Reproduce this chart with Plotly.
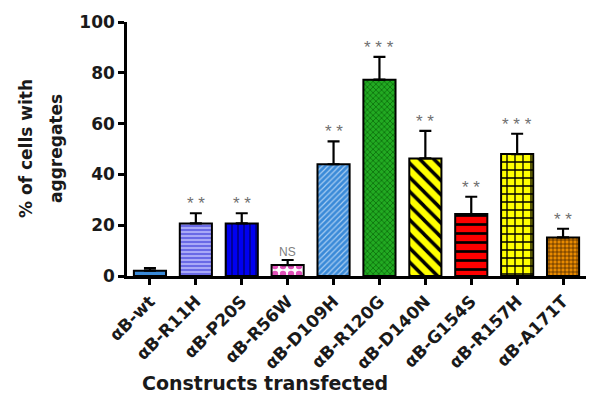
import plotly.graph_objects as go

constructs = ["\u03b1B-wt", "\u03b1B-R11H", "\u03b1B-P20S", "\u03b1B-R56W", "\u03b1B-D109H",
              "\u03b1B-R120G", "\u03b1B-D140N", "\u03b1B-G154S", "\u03b1B-R157H", "\u03b1B-A171T"]
pct_aggregates = [2.1, 20.7, 20.7, 4.3, 44.0, 77.3, 46.3, 24.4, 48.0, 15.2]
sem = [1.0, 4.0, 4.0, 2.0, 9.0, 9.0, 10.8, 6.8, 8.0, 3.4]
significance = ["", "**", "**", "NS", "**", "***", "**", "**", "***", "**"]

# bar fill styles (shape, background, foreground, size, solidity)
fills = [
    ("", "#3a8ad8", "#3a8ad8", 8, 0.3),
    ("-", "#6a6ae6", "#c4c4ff", 4, 0.35),
    ("|", "#0000f0", "#00008c", 6, 0.3),
    (".", "#ffffff", "#e050b8", 8, 0.5),
    ("/", "#3a8ad8", "#a8cdf2", 4, 0.3),
    ("x", "#22aa22", "#0b6b0b", 4, 0.35),
    ("\\", "#ffff00", "#000000", 10, 0.35),
    ("-", "#ff0000", "#000000", 9, 0.3),
    ("+", "#ffff00", "#000000", 8, 0.3),
    ("+", "#e88a00", "#3a1c00", 4, 0.3),
]

fig = go.Figure()

# one trace per construct so every bar gets its own fill pattern
for i, (name, v, e, f) in enumerate(zip(constructs, pct_aggregates, sem, fills)):
    shape, bg, fg, size, solidity = f
    fig.add_trace(go.Bar(
        x=[i], y=[v], name=name,
        width=0.7,
        marker=dict(
            color=bg,
            line=dict(color="black", width=2),
            pattern=dict(shape=shape, bgcolor=bg, fgcolor=fg, size=size,
                         solidity=solidity, fillmode="replace"),
        ),
        error_y=dict(type="data", array=[e], arrayminus=[0], symmetric=False,
                     color="black", thickness=2.2, width=6),
        showlegend=False,
    ))

# significance markers above error bars
for i, (v, e, s) in enumerate(zip(pct_aggregates, sem, significance)):
    if not s:
        continue
    if s == "NS":
        fig.add_annotation(x=i, y=v + e, text=s, showarrow=False,
                           yanchor="bottom", yshift=-1,
                           font=dict(family="Arial", size=12, color="#808080"))
    else:
        fig.add_annotation(x=i, y=v + e, text=" ".join(s), showarrow=False,
                           yanchor="bottom", yshift=-2,
                           font=dict(family="Arial", size=17, color="#707070"))

# axis titles placed as in the reference
fig.add_annotation(
    xref="paper", yref="paper", x=(265 - 127) / 459, y=-0.42,
    text="<b>Constructs transfected</b>", showarrow=False,
    xanchor="center", yanchor="middle",
    font=dict(family="DejaVu Sans", size=19, color="#1a1a1a"),
)
for px, line in [(26, "% of cells with"), (56, "aggregates")]:
    fig.add_annotation(
        xref="paper", yref="paper", x=(px - 127) / 459, y=0.5,
        text=f"<b>{line}</b>", showarrow=False, textangle=-90,
        xanchor="center", yanchor="middle",
        font=dict(family="DejaVu Sans", size=17, color="#1a1a1a"),
    )

# page body has an 8px margin, so the figure is drawn 8px in from the corner
fig.update_layout(
    width=594, height=399,
    margin=dict(l=119, r=16, t=14, b=131),
    barmode="overlay",
    plot_bgcolor="white",
    paper_bgcolor="white",
    font=dict(family="DejaVu Sans", color="#1a1a1a"),
)

fig.update_xaxes(
    range=[-0.5, 9.5],
    tickmode="array",
    tickvals=list(range(len(constructs))),
    ticktext=[f"<b>{c}</b>" for c in constructs],
    tickangle=-45,
    tickfont=dict(family="DejaVu Sans", size=17),
    showline=True, linecolor="black", linewidth=2.5,
    ticks="outside", ticklen=6, tickwidth=2.5, tickcolor="black",
    showgrid=False, zeroline=False, automargin=False,
)

fig.update_yaxes(
    range=[0, 100],
    tickvals=[0, 20, 40, 60, 80, 100],
    ticktext=["<b>0</b>", "<b>20</b>", "<b>40</b>", "<b>60</b>", "<b>80</b>", "<b>100</b>"],
    tickfont=dict(family="DejaVu Sans", size=17),
    showline=True, linecolor="black", linewidth=2.5,
    ticks="outside", ticklen=6, tickwidth=2.5, tickcolor="black",
    showgrid=False, zeroline=False, automargin=False,
)

fig.write_html("out.html")
